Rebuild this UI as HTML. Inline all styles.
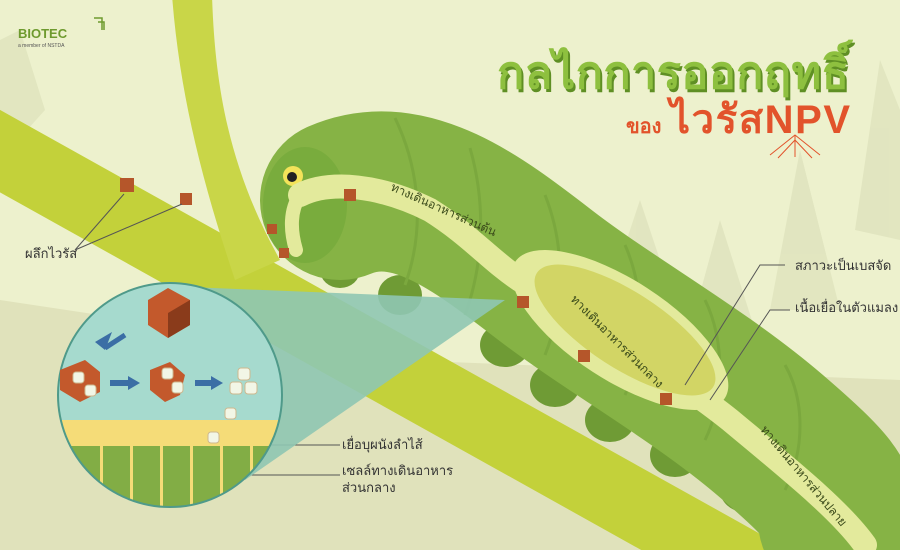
<!DOCTYPE html>
<html><head><meta charset="utf-8"><style>
body{margin:0;width:900px;height:550px;overflow:hidden;background:#edf1cd}
svg{display:block}
text{font-family:"Liberation Sans","Noto Sans CJK SC",sans-serif}
</style></head><body>
<svg width="900" height="550" viewBox="0 0 900 550">
<rect width="900" height="550" fill="#edf1cd"/>
<polygon points="0,300 400,360 900,380 900,550 0,550" fill="#e0e2bb"/>
<g fill="#dfe3bd" opacity="0.8">
<polygon points="20,30 45,110 0,160 0,40"/>
<polygon points="880,60 900,110 900,240 855,230"/>
<polygon points="640,200 670,290 610,290"/>
<polygon points="720,220 755,330 690,330"/>
<polygon points="800,150 840,310 770,310"/>
</g>
<!-- branches -->
<line x1="-20" y1="140" x2="760" y2="575" stroke="#c3d13a" stroke-width="72"/>
<path d="M172,-5 L212,-5 C215,90 230,170 280,260 L235,280 C205,190 180,100 172,-5Z" fill="#c9d648"/>
<!-- caterpillar body -->
<g fill="#6f9b35">
<ellipse cx="340" cy="270" rx="20" ry="18"/><ellipse cx="400" cy="295" rx="22" ry="20"/>
<ellipse cx="505" cy="345" rx="25" ry="22"/><ellipse cx="555" cy="385" rx="25" ry="22"/>
<ellipse cx="610" cy="420" rx="25" ry="22"/><ellipse cx="675" cy="455" rx="25" ry="22"/>
<ellipse cx="745" cy="490" rx="25" ry="22"/>
</g>
<path d="M340,200 C410,170 480,225 545,275 S700,375 770,435 S835,500 838,520" fill="none" stroke="#86b345" stroke-width="160" stroke-linecap="round"/>
<g stroke="#7ba83e" stroke-width="3" fill="none">
<path d="M395,118 C420,170 425,230 405,285"/><path d="M470,148 C485,200 485,260 465,315"/>
<path d="M545,195 C565,245 565,305 545,355"/><path d="M625,245 C645,290 645,350 625,395"/>
<path d="M705,300 C725,340 725,400 705,440"/><path d="M785,365 C805,400 805,450 785,490"/>
</g>
<!-- head -->
<ellipse cx="305" cy="205" rx="42" ry="58" fill="#79ac3d"/>
<circle cx="293" cy="176" r="10" fill="#f3e35a"/><circle cx="292" cy="177" r="5" fill="#222"/>
<!-- gut -->
<path d="M300,195 C330,180 380,185 430,210 C470,235 490,260 520,280 C600,330 680,380 730,420 C790,470 840,510 865,545" fill="none" stroke="#e3ea9c" stroke-width="24" stroke-linecap="round"/>
<path d="M300,195 C290,210 290,230 296,250" fill="none" stroke="#e3ea9c" stroke-width="14" stroke-linecap="round"/>
<ellipse cx="620" cy="330" rx="125" ry="50" transform="rotate(33 620 330)" fill="#e3ea9c"/>
<ellipse cx="625" cy="330" rx="105" ry="38" transform="rotate(33 625 330)" fill="#d2d565"/>
<g fill="#b5562a">
<rect x="120" y="178" width="14" height="14"/><rect x="180" y="193" width="12" height="12"/>
<rect x="344" y="189" width="12" height="12"/><rect x="267" y="224" width="10" height="10"/>
<rect x="279" y="248" width="10" height="10"/><rect x="517" y="296" width="12" height="12"/>
<rect x="578" y="350" width="12" height="12"/><rect x="660" y="393" width="12" height="12"/>
</g>
<g font-size="12" fill="#3a4a1a">
<text transform="translate(390,190) rotate(24)">ทางเดินอาหารส่วนต้น</text>
<text transform="translate(570,300) rotate(45)">ทางเดินอาหารส่วนกลาง</text>
<text transform="translate(760,430) rotate(50)">ทางเดินอาหารส่วนปลาย</text>
</g>
<!-- callouts -->
<g stroke="#555" stroke-width="1" fill="none">
<polyline points="124,194 75,250 182,204"/>
<polyline points="685,385 760,265 785,265"/>
<polyline points="710,400 770,310 790,310"/>
<line x1="258" y1="445" x2="340" y2="445"/>
<line x1="210" y1="475" x2="340" y2="475"/>
</g>
<g font-size="13" fill="#333">
<text x="25" y="258">ผลึกไวรัส</text>
<text x="795" y="270">สภาวะเป็นเบสจัด</text>
<text x="795" y="312">เนื้อเยื่อในตัวแมลง</text>
<text x="342" y="449">เยื่อบุผนังลำไส้</text>
<text x="342" y="475">เซลล์ทางเดินอาหาร</text>
<text x="342" y="492">ส่วนกลาง</text>
</g>
<!-- zoom cone & circle -->
<polygon points="165,286 505,300 245,480" fill="#8fc6b2" opacity="0.9"/>
<clipPath id="c"><circle cx="170" cy="395" r="112"/></clipPath>
<circle cx="170" cy="395" r="112" fill="#a6dace"/>
<g clip-path="url(#c)">
<rect x="50" y="420" width="250" height="95" fill="#f5dc78"/>
<rect x="50" y="446" width="250" height="70" fill="#82ad45"/>
<g fill="#f5dc78"><rect x="100" y="446" width="3" height="70"/><rect x="130" y="446" width="3" height="70"/><rect x="160" y="446" width="3" height="70"/><rect x="190" y="446" width="3" height="70"/><rect x="220" y="446" width="3" height="70"/><rect x="250" y="446" width="3" height="70"/></g>
</g>
<circle cx="170" cy="395" r="112" fill="none" stroke="#4f9a8a" stroke-width="2"/>
<polygon points="168,288 190,300 190,325 168,338 148,325 148,300" fill="#c3592c"/>
<polygon points="168,313 190,300 190,325 168,338" fill="#8a3b1b"/>
<polygon points="95,342 112,332 105,350" fill="#3b6ea5"/>
<line x1="125" y1="335" x2="105" y2="348" stroke="#3b6ea5" stroke-width="5"/>
<polygon points="60,370 85,360 100,372 100,392 80,402 60,390" fill="#c3592c"/>
<polygon points="150,370 170,362 185,375 180,395 165,402 150,390" fill="#c3592c"/>
<path d="M110,383 h20" stroke="#3b6ea5" stroke-width="6"/><polygon points="128,376 140,383 128,390" fill="#3b6ea5"/>
<path d="M195,383 h18" stroke="#3b6ea5" stroke-width="6"/><polygon points="211,376 223,383 211,390" fill="#3b6ea5"/>
<g fill="#f2f6e6" stroke="#cdb88f" stroke-width="1">
<rect x="238" y="368" width="12" height="12" rx="3"/><rect x="230" y="382" width="12" height="12" rx="3"/><rect x="245" y="382" width="12" height="12" rx="3"/>
<rect x="225" y="408" width="11" height="11" rx="3"/><rect x="208" y="432" width="11" height="11" rx="3"/>
<rect x="73" y="372" width="11" height="11" rx="3"/><rect x="85" y="385" width="11" height="11" rx="3"/>
<rect x="162" y="368" width="11" height="11" rx="3"/><rect x="172" y="382" width="11" height="11" rx="3"/>
</g>
<!-- title -->
<text x="499" y="91" font-size="45" font-weight="bold" fill="#5f8f24" textLength="352">กลไกการออกฤทธิ์</text>
<text x="497" y="88" font-size="45" font-weight="bold" fill="#8ec03f" textLength="352">กลไกการออกฤทธิ์</text>
<text x="626" y="133" font-size="20" font-weight="bold" fill="#e2532b">ของ</text>
<text x="670" y="133" font-size="40" font-weight="bold" fill="#e2532b" textLength="180">ไวรัสNPV</text>
<g stroke="#e2532b" stroke-width="1" fill="none"><path d="M770,155 l25,-20 l25,20 M778,158 l17,-18 l17,18 M795,135 v22"/></g>
<!-- logo -->
<text x="18" y="38" font-size="13" font-weight="bold" fill="#6e9a2e">BIOTEC</text>
<text x="18" y="47" font-size="5" fill="#555">a member of NSTDA</text>
<path d="M94,18 h8 v12 M98,22 h6 v8" stroke="#6e9a2e" stroke-width="1.5" fill="none"/>
</svg>
</body></html>
